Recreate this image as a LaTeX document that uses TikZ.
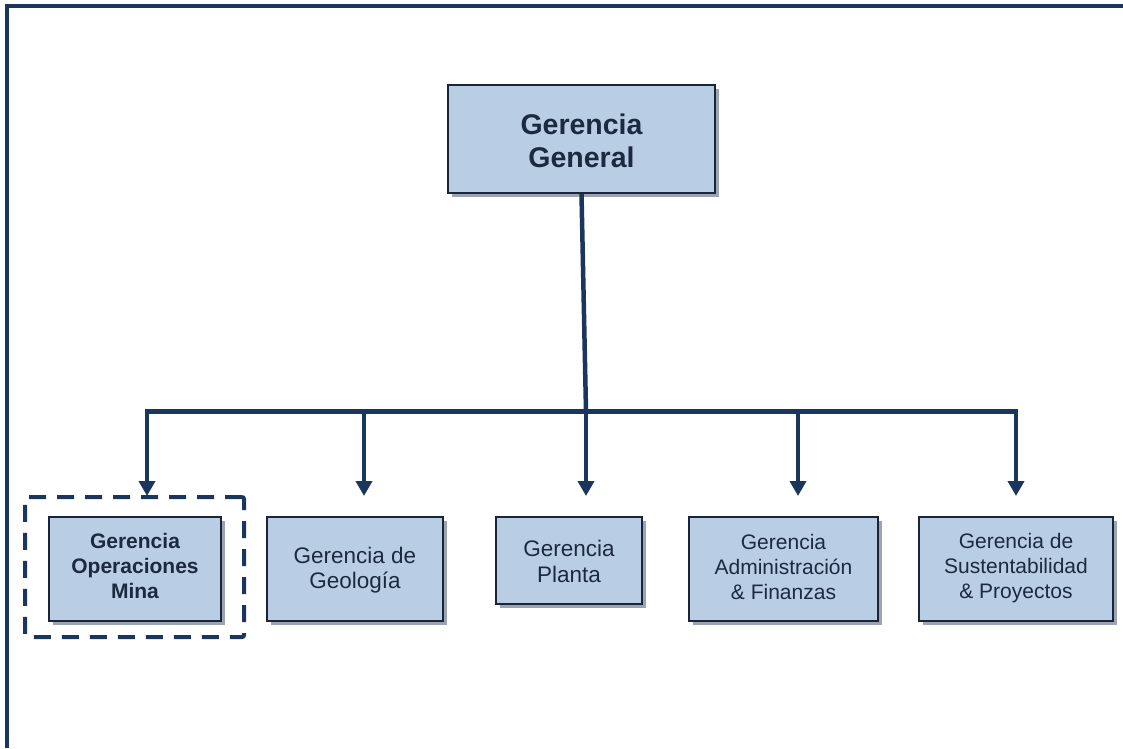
\documentclass[tikz,border=0pt]{standalone}
\usepackage{fontspec}
\setmainfont{Liberation Sans}
\usetikzlibrary{arrows.meta,shadows}
\definecolor{navy}{HTML}{1B365D}
\definecolor{boxfill}{HTML}{B9CDE5}
\definecolor{boxline}{HTML}{1A2638}
\definecolor{ink}{HTML}{1C2A40}
\definecolor{shade}{HTML}{9AA4B2}

\begin{document}
\begin{tikzpicture}[x=1pt,y=-1pt,
  unit/.style={draw=boxline, line width=2pt, fill=boxfill, inner sep=0pt,
    drop shadow={shadow xshift=4pt, shadow yshift=-4pt, fill=shade, opacity=1}},
  txt/.style={text=ink, align=center, inner sep=0pt, font=\fontsize{21}{25}\selectfont},
  bigtxt/.style={txt, font=\fontsize{22.5}{25.5}\selectfont},
  boldtxt/.style={txt, font=\fontsize{21}{25}\selectfont\bfseries},
  headtxt/.style={txt, font=\fontsize{28.5}{33}\selectfont\bfseries},
  link/.style={draw=navy, line width=4.5pt, line join=miter},
  arrowlink/.style={link, -{Triangle[width=16pt,length=15pt]}},
  focusframe/.style={draw=navy, line width=4pt, dash pattern=on 17pt off 11pt,
    rounded corners=2pt, minimum width=219pt, minimum height=140pt, inner sep=0pt}
]
\useasboundingbox (0,0) rectangle (1123,748);

% page frame: top and left edges
\draw[navy, line width=4pt, line join=miter] (6.5,748) -- (6.5,6) -- (1123,6);

% general management
\node[unit, minimum width=267pt, minimum height=108pt] (gg) at (581.5,139) {};
\node[headtxt] (ggt) at ([yshift=-2pt]gg.center) {Gerencia\\General};

% highlighted unit frame
\node[focusframe] (focus) at (134.5,567) {};

% departments
\node[unit, minimum width=172pt, minimum height=104pt] (mina) at (135,569) {};
\node[boldtxt] (minat) at ([yshift=3pt]mina.center) {Gerencia\\Operaciones\\Mina};

\node[unit, minimum width=176pt, minimum height=104pt] (geo) at (355,569) {};
\node[bigtxt] (geot) at ([yshift=-1pt]geo.center) {Gerencia de\\Geología};

\node[unit, minimum width=146pt, minimum height=87pt] (planta) at (569,560.5) {};
\node[bigtxt] (plantat) at ([yshift=-1pt]planta.center) {Gerencia\\Planta};

\node[unit, minimum width=189pt, minimum height=104pt] (adm) at (783.5,569) {};
\node[txt] (admt) at ([yshift=2.5pt]adm.center) {Gerencia\\Administración\\\& Finanzas};

\node[unit, minimum width=194pt, minimum height=104pt] (sus) at (1016,569) {};
\node[txt] (sust) at ([yshift=0.5pt]sus.center) {Gerencia de\\Sustentabilidad\\\& Proyectos};

% bus line and arrow tips
\coordinate (busL) at (147,411.5);
\coordinate (busR) at (1016,411.5);
\coordinate (tip1) at (147,496);
\coordinate (tip2) at (364,496);
\coordinate (tip3) at (586,496);
\coordinate (tip4) at (798,496);
\coordinate (tip5) at (1016,496);

\draw[link, {Triangle[width=16pt,length=15pt]}-{Triangle[width=16pt,length=15pt]}]
  (tip1) -- (busL) -- (busR) -- (tip5);
\draw[link] (gg.south) -- (tip3 |- busL);
\draw[arrowlink] (tip2 |- busL) -- (tip2);
\draw[arrowlink] (tip3 |- busL) -- (tip3);
\draw[arrowlink] (tip4 |- busL) -- (tip4);
\end{tikzpicture}
\end{document}
